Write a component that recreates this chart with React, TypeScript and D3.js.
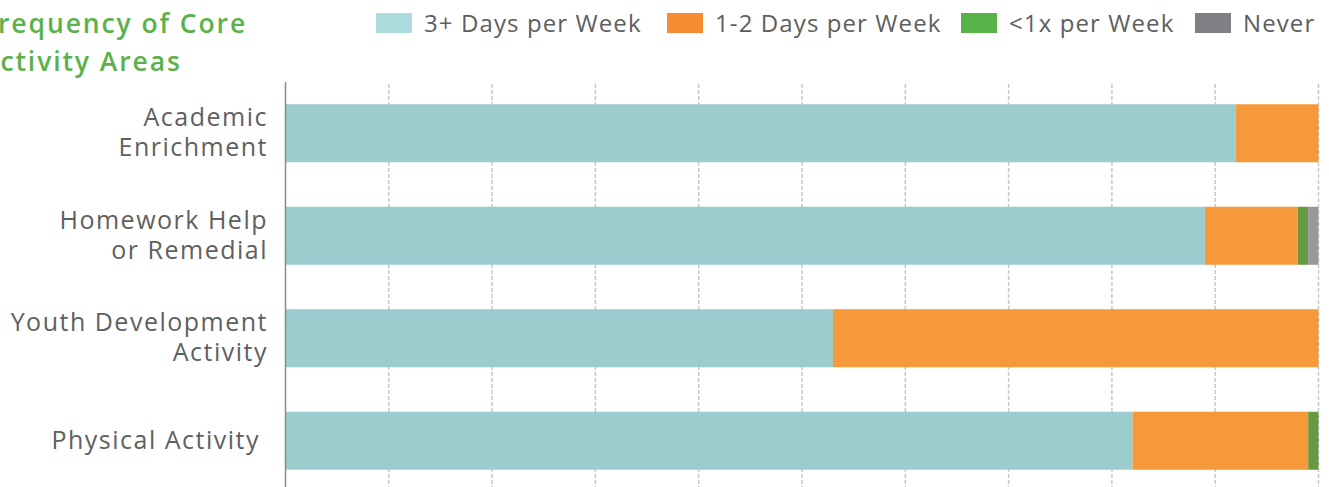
import React from "react";
import * as d3 from "d3";

const categories = [
  ["Academic", "Enrichment"],
  ["Homework Help", "or Remedial"],
  ["Youth Development", "Activity"],
  ["Physical Activity "],
];
const seriesNames = ["3+ Days per Week", "1-2 Days per Week", "<1x per Week", "Never"];
const days3plus = [92, 89, 53, 82];
const days1to2 = [8, 9, 47, 17];
const lessThanWeekly = [0, 1, 0, 1];
const never = [0, 1, 0, 0];
const gridTicks = [10, 20, 30, 40, 50, 60, 70, 80, 90, 100];

const barColors = ["#9CCCCD", "#F6993A", "#659A42", "#999999"];
const legendColors = ["#ACDCDD", "#F68B33", "#58B247", "#808084"];

const W = 1329;
const H = 487;
const FONT = "'Open Sans', sans-serif";

export default function App() {
  const x = d3.scaleLinear().domain([0, 100]).range([285.5, 1318.5]);
  const y = d3
    .scaleBand<number>()
    .domain(d3.range(categories.length))
    .range([82, 492])
    .paddingInner(0.434)
    .paddingOuter(0.217);

  const rows = categories.map((_, i) => ({
    i,
    a: days3plus[i],
    b: days1to2[i],
    c: lessThanWeekly[i],
    d: never[i],
  }));
  const stack = d3.stack<any>().keys(["a", "b", "c", "d"]);
  const layers = stack(rows);

  const legendX = [376, 667, 961, 1195];

  return (
    <svg
      width={W}
      height={H}
      style={{ position: "absolute", left: 0, top: 0, background: "#fff" }}
      fontFamily={FONT}
    >
      <text x={-18} y={33} fill="#5BB24A" fontSize={26.5} fontWeight={600} letterSpacing={1.9}>
        Frequency of Core
      </text>
      <text x={-19} y={71} fill="#5BB24A" fontSize={26.5} fontWeight={600} letterSpacing={1.9}>
        Activity Areas
      </text>

      {seriesNames.map((s, k) => (
        <g key={s}>
          <rect x={legendX[k]} y={13} width={36} height={20} fill={legendColors[k]} />
          <text x={legendX[k] + 48} y={32} fontSize={24} fill="#5E5E5E" letterSpacing={1.1}>
            {s}
          </text>
        </g>
      ))}

      {gridTicks.map((t) => (
        <line
          key={t}
          x1={x(t)}
          x2={x(t)}
          y1={84}
          y2={H}
          stroke="#C8C8C8"
          strokeWidth={1.5}
          strokeDasharray="4,2"
        />
      ))}

      {layers.map((layer, k) => (
        <g key={k} fill={barColors[k]}>
          {layer.map((seg, i) =>
            seg[1] - seg[0] > 0 ? (
              <rect
                key={i}
                x={x(seg[0])}
                y={y(i)}
                width={x(seg[1]) - x(seg[0])}
                height={y.bandwidth()}
              />
            ) : null
          )}
        </g>
      ))}

      <line x1={285.5} x2={285.5} y1={82} y2={H} stroke="#8A8A8A" strokeWidth={1.5} />

      {categories.map((lines, i) => {
        const cy = (y(i) as number) + y.bandwidth() / 2;
        const lh = 30;
        const start = cy - ((lines.length - 1) * lh) / 2 + 8;
        return (
          <g key={i}>
            {lines.map((l, j) => (
              <text
                key={j}
                x={268}
                y={start + j * lh}
                textAnchor="end"
                fontSize={25}
                fill="#606060"
                letterSpacing={1.5}
                style={{ whiteSpace: "pre" }}
              >
                {l}
              </text>
            ))}
          </g>
        );
      })}
    </svg>
  );
}
